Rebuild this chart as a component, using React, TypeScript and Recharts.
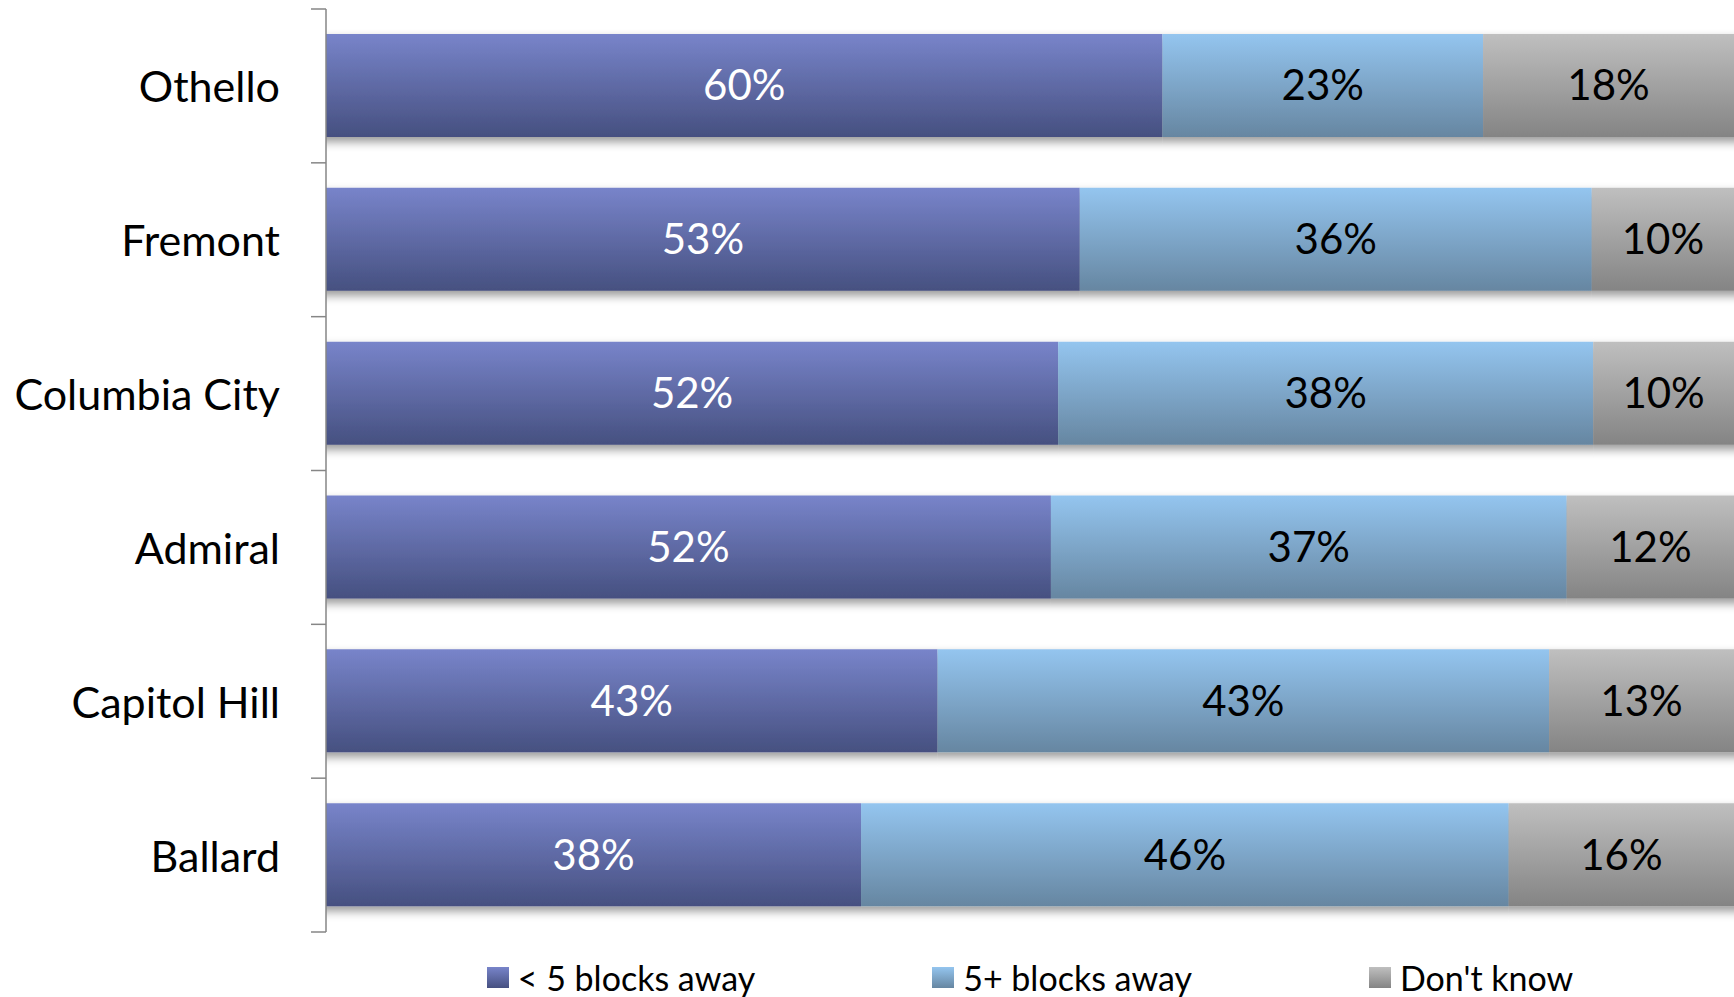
import { BarChart, Bar, XAxis, YAxis, LabelList, Legend } from "recharts";

const CATEGORIES = ["Othello", "Fremont", "Columbia City", "Admiral", "Capitol Hill", "Ballard"];
const UNDER_FIVE = [60, 53, 52, 52, 43, 38];
const FIVE_PLUS = [23, 36, 38, 37, 43, 46];
const DONT_KNOW = [18, 10, 10, 12, 13, 16];

const SERIES = [
  { key: "under", name: "< 5 blocks away", top: "#7884ca", bottom: "#465080", label: "#ffffff" },
  { key: "plus", name: "5+ blocks away", top: "#94c5ef", bottom: "#6686a1", label: "#000000" },
  { key: "dk", name: "Don't know", top: "#bfbfbf", bottom: "#848484", label: "#000000" },
];

const FONT = "Lato, 'Open Sans', sans-serif";
const W = 1734;
const H = 997;
const MARGIN = { top: 9, right: 0, left: 0, bottom: 25 };
const LEGEND_H = 40;
const AXIS_W = 326;
const BAND = (H - MARGIN.top - MARGIN.bottom - LEGEND_H) / CATEGORIES.length;

const data = CATEGORIES.map((name, i) => ({
  name,
  under: UNDER_FIVE[i],
  plus: FIVE_PLUS[i],
  dk: DONT_KNOW[i],
}));

// category label plus the boundary tick marks (Excel puts them between bars)
function CategoryTick(props: any) {
  const { x, y, payload, index } = props;
  const axisX = x + 46;
  return (
    <g>
      <text
        x={x}
        y={y}
        textAnchor="end"
        dominantBaseline="central"
        fontFamily={FONT}
        fontSize={43}
        fill="#000"
      >
        {payload.value}
      </text>
      {index === 0 && (
        <line x1={axisX - 15} x2={axisX} y1={y - BAND / 2} y2={y - BAND / 2} stroke="#868686" strokeWidth={1.5} />
      )}
      <line x1={axisX - 15} x2={axisX} y1={y + BAND / 2} y2={y + BAND / 2} stroke="#868686" strokeWidth={1.5} />
    </g>
  );
}

function LegendContent() {
  return (
    <div
      style={{
        display: "flex",
        justifyContent: "center",
        alignItems: "center",
        gap: 177,
        height: LEGEND_H,
        width: W - AXIS_W,
        fontFamily: FONT,
        fontSize: 34,
        color: "#000",
      }}
    >
      {SERIES.map((s) => (
        <div key={s.key} style={{ display: "flex", alignItems: "center", gap: 9 }}>
          <span
            style={{
              width: 22,
              height: 21,
              background: `linear-gradient(${s.top}, ${s.bottom})`,
              display: "inline-block",
            }}
          />
          <span>{s.name}</span>
        </div>
      ))}
    </div>
  );
}

export default function App() {
  return (
    <div>
      <style>{"body{margin:0;}"}</style>
      <BarChart
        width={W}
        height={H}
        data={data}
        layout="vertical"
        stackOffset="expand"
        margin={MARGIN}
        barSize={103}
      >
        <defs>
          {SERIES.map((s) => (
            <linearGradient key={s.key} id={`grad-${s.key}`} x1="0" y1="0" x2="0" y2="1">
              <stop offset="0%" stopColor={s.top} />
              <stop offset="100%" stopColor={s.bottom} />
            </linearGradient>
          ))}
          <filter id="barShadow" x="-5%" y="-20%" width="110%" height="160%">
            <feDropShadow dx={0} dy={5} stdDeviation="0 5" floodColor="#000" floodOpacity={0.4} />
          </filter>
        </defs>
        <XAxis type="number" hide domain={[0, 1]} />
        <YAxis
          type="category"
          dataKey="name"
          width={AXIS_W}
          tickLine={false}
          tickMargin={31}
          tickSize={15}
          axisLine={{ stroke: "#868686", strokeWidth: 1.5 }}
          tick={<CategoryTick />}
          interval={0}
        />
        <Legend
          verticalAlign="bottom"
          content={<LegendContent />}
          wrapperStyle={{ top: 957, bottom: "auto", left: AXIS_W, width: W - AXIS_W }}
        />
        {SERIES.map((s) => (
          <Bar
            key={s.key}
            dataKey={s.key}
            name={s.name}
            stackId="a"
            fill={`url(#grad-${s.key})`}
            filter="url(#barShadow)"
            isAnimationActive={false}
          >
            <LabelList
              dataKey={s.key}
              position="center"
              formatter={(v: any) => `${v}%`}
              fill={s.label}
              fontFamily={FONT}
              fontSize={42}
            />
          </Bar>
        ))}
      </BarChart>
    </div>
  );
}
